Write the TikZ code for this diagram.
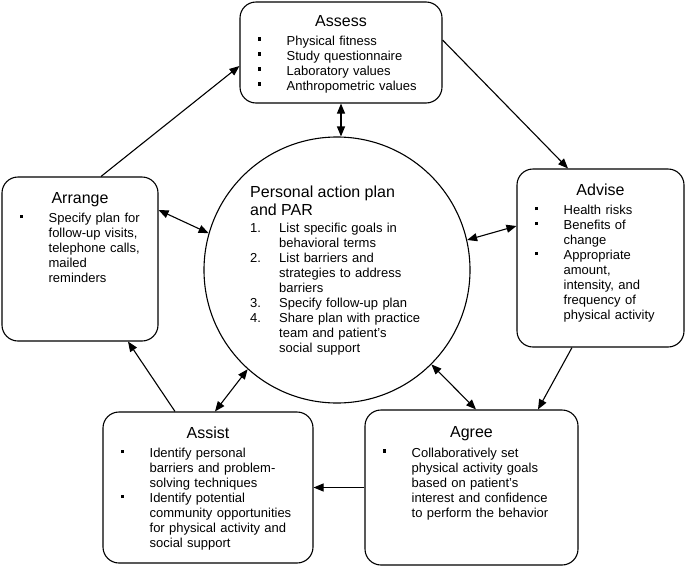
\documentclass[tikz,border=0pt]{standalone}
\usepackage{fontspec}
\setmainfont{Liberation Sans}
\usepackage{enumitem}
\usetikzlibrary{arrows.meta}

\newcommand{\sqbullet}{\raisebox{4.5pt}{\rule{3.5pt}{3.5pt}}}
\newlist{steplist}{itemize}{1}
\setlist[steplist]{label=\sqbullet, leftmargin=29pt, labelwidth=29pt, labelsep=0pt, align=left, nosep}
\newlist{planlist}{enumerate}{1}
\setlist[planlist]{label=\arabic*., leftmargin=29pt, labelwidth=29pt, labelsep=0pt, align=left, nosep}

\tikzset{stage/.style = {draw, rounded corners=16pt, line width=1.1pt, inner sep=0pt},
         stagetitle/.style = {anchor=base, inner sep=0pt, font=\fontsize{16}{18}\selectfont},
         stagelist/.style = {anchor=north west, inner sep=0pt, text width=#1, align=left,
                             font=\fontsize{13}{15}\selectfont},
         stagelist/.default = 140pt,
         link/.style = {line width=1.1pt, -{Triangle[length=10pt,width=8pt]}},
         twoway/.style = {line width=1.1pt, {Triangle[length=10pt,width=8pt]}-{Triangle[length=10pt,width=8pt]}}
        }

\begin{document}
\begin{tikzpicture}[x=1pt, y=-1pt]
  \useasboundingbox (0,0) rectangle (685,568);

  \node[stage, minimum width=202pt, minimum height=101pt] (assess) at (341,52.5) {};
  \node[stage, minimum width=167pt, minimum height=178pt] (advise) at (600.5,258) {};
  \node[stage, minimum width=156pt, minimum height=164pt] (arrange) at (80,259) {};
  \node[stage, minimum width=210pt, minimum height=151pt] (assist) at (208,487.5) {};
  \node[stage, minimum width=213pt, minimum height=155pt] (agree) at (471.5,487.5) {};
  \node[draw, circle, line width=1.1pt, minimum size=266pt, inner sep=0pt] (par) at (337,270) {};

  \node[stagetitle] (assess-t) at ([yshift=-25pt]assess.north) {Assess};
  \node[stagelist=178pt] (assess-l) at ([xshift=18pt, yshift=-28.5pt]assess.north west)
    {\begin{steplist}
       \item Physical fitness
       \item Study questionnaire
       \item Laboratory values
       \item Anthropometric values
     \end{steplist}};

  \node[stagetitle] (advise-t) at ([yshift=-27pt]advise.north) {Advise};
  \node[stagelist=143pt] (advise-l) at ([xshift=18pt, yshift=-31pt]advise.north west)
    {\begin{steplist}
       \item Health risks
       \item Benefits of\newline change
       \item Appropriate\newline amount,\newline intensity, and\newline frequency of\newline physical activity
     \end{steplist}};

  \node[stagetitle] (arrange-t) at ([yshift=-27pt]arrange.north) {Arrange};
  \node[stagelist=132pt] (arrange-l) at ([xshift=18pt, yshift=-31pt]arrange.north west)
    {\begin{steplist}
       \item Specify plan for\newline follow-up visits,\newline telephone calls,\newline mailed\newline reminders
     \end{steplist}};

  \node[stagetitle] (assist-t) at ([yshift=-27pt]assist.north) {Assist};
  \node[stagelist=186pt] (assist-l) at ([xshift=18pt, yshift=-31pt]assist.north west)
    {\begin{steplist}
       \item Identify personal\newline barriers and problem-\newline solving techniques
       \item Identify potential\newline community opportunities\newline for physical activity and\newline social support
     \end{steplist}};

  \node[stagetitle] (agree-t) at ([yshift=-28pt]agree.north) {Agree};
  \node[stagelist=189pt] (agree-l) at ([xshift=18pt, yshift=-32.5pt]agree.north west)
    {\begin{steplist}
       \item Collaboratively set\newline physical activity goals\newline based on patient's\newline interest and confidence\newline to perform the behavior
     \end{steplist}};

  \node[stagelist=180pt] (par-l) at (250,185.3)
    {{\fontsize{16}{18}\selectfont Personal action plan\newline and PAR\par}
     \vspace{2pt}
     \begin{planlist}
       \item List specific goals in\newline behavioral terms
       \item List barriers and\newline strategies to address\newline barriers
       \item Specify follow-up plan
       \item Share plan with practice\newline team and patient's\newline social support
     \end{planlist}};

  \draw[link] ([xshift=21pt]arrange.north) -- ([yshift=-13.5pt]assess.west);
  \draw[link] ([yshift=12.5pt]assess.east) -- ([xshift=-32.5pt]advise.north);
  \draw[link] ([xshift=-28.5pt]advise.south) -- ([xshift=66.5pt]agree.north);
  \draw[link] (agree.west) -- (assist.east);
  \draw[link] ([xshift=-33pt]assist.north) -- ([xshift=48pt]arrange.south);

  \draw[twoway] (assess.south) -- (assess.south |- par.north);
  \draw[twoway] ([yshift=32pt]advise.west) -- (par.13);
  \draw[twoway] ([yshift=49pt]arrange.east) -- (par.164);
  \draw[twoway] ([xshift=7pt]assist.north) -- (par.228);
  \draw[twoway] ([xshift=4.5pt]agree.north) -- (par.315);
\end{tikzpicture}
\end{document}
